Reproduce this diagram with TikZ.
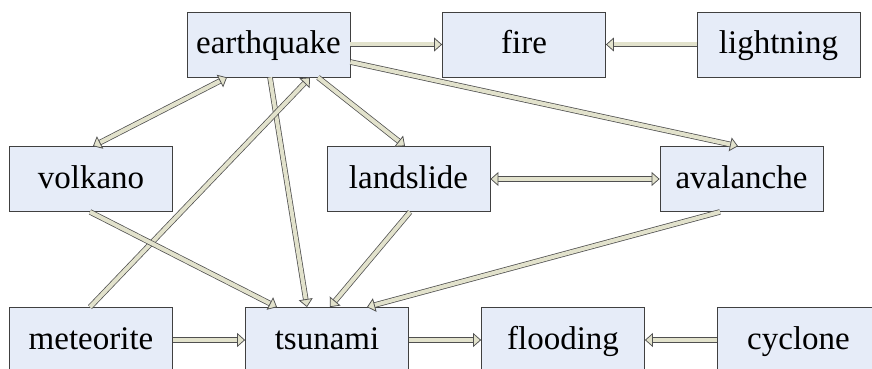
\documentclass[tikz,border=0pt]{standalone}
\usepackage{fontspec}
\setmainfont{Liberation Serif}
\usetikzlibrary{arrows.meta}
\definecolor{boxfill}{HTML}{E6ECF8}
\definecolor{boxline}{HTML}{404040}
\definecolor{arrfill}{HTML}{E2E2CC}
\definecolor{arrline}{HTML}{505050}
\tikzset{
  hazard/.style={draw=boxline, fill=boxfill, line width=0.8pt, minimum width=163pt, minimum height=65pt, inner sep=0pt, text height=25pt, text depth=7pt, font=\fontsize{33}{37}\selectfont},
  conn/.style={draw=arrline, line width=0.75pt, double=arrfill, double distance=4pt,
    -{Triangle[length=8pt,width=14pt,fill=arrfill,line width=0.75pt]}},
  bconn/.style={conn, {Triangle[length=8pt,width=14pt,fill=arrfill,line width=0.75pt]}-{Triangle[length=8pt,width=14pt,fill=arrfill,line width=0.75pt]}}
}
\begin{document}
\begin{tikzpicture}[x=1pt,y=-1pt]
\useasboundingbox (0,0) rectangle (872,369);
\clip (0,0) rectangle (872,369);
\node[hazard] (earthquake) at (268.5,44.5) {earthquake};
\node[hazard] (fire) at (524,44.5) {fire};
\node[hazard] (lightning) at (778.5,44.5) {lightning};
\node[hazard] (volkano) at (91,179) {volkano};
\node[hazard] (landslide) at (408.5,179) {landslide};
\node[hazard] (avalanche) at (741.5,179) {avalanche};
\node[hazard] (meteorite) at (91,340) {meteorite};
\node[hazard] (tsunami) at (327,340) {tsunami};
\node[hazard] (flooding) at (563,340) {flooding};
\node[hazard] (cyclone) at (798.5,340) {cyclone};

\draw[conn] (earthquake.east) -- (fire.west);
\draw[conn] (lightning.west) -- (fire.east);
\draw[bconn] ([xshift=-41.5pt]earthquake.south) -- ([xshift=2pt]volkano.north);
\draw[conn] ([xshift=1.5pt]earthquake.south) -- ([xshift=-20pt]tsunami.north);
\draw[conn] ([xshift=-1pt]meteorite.north) -- ([xshift=41.5pt]earthquake.south);
\draw[conn] ([xshift=49.5pt]earthquake.south) -- ([xshift=-3.5pt]landslide.north);
\draw[conn] ([yshift=-17.5pt]earthquake.east) -- ([xshift=-3.5pt]avalanche.north);
\draw[bconn] (landslide.east) -- (avalanche.west);
\draw[conn] ([xshift=-1pt]volkano.south) -- ([xshift=-50pt]tsunami.north);
\draw[conn] ([xshift=1.5pt]landslide.south) -- ([xshift=3pt]tsunami.north);
\draw[conn] ([xshift=-21.5pt]avalanche.south) -- ([xshift=40pt]tsunami.north);
\draw[conn] (meteorite.east) -- (tsunami.west);
\draw[conn] (tsunami.east) -- (flooding.west);
\draw[conn] (cyclone.west) -- (flooding.east);
\end{tikzpicture}
\end{document}
